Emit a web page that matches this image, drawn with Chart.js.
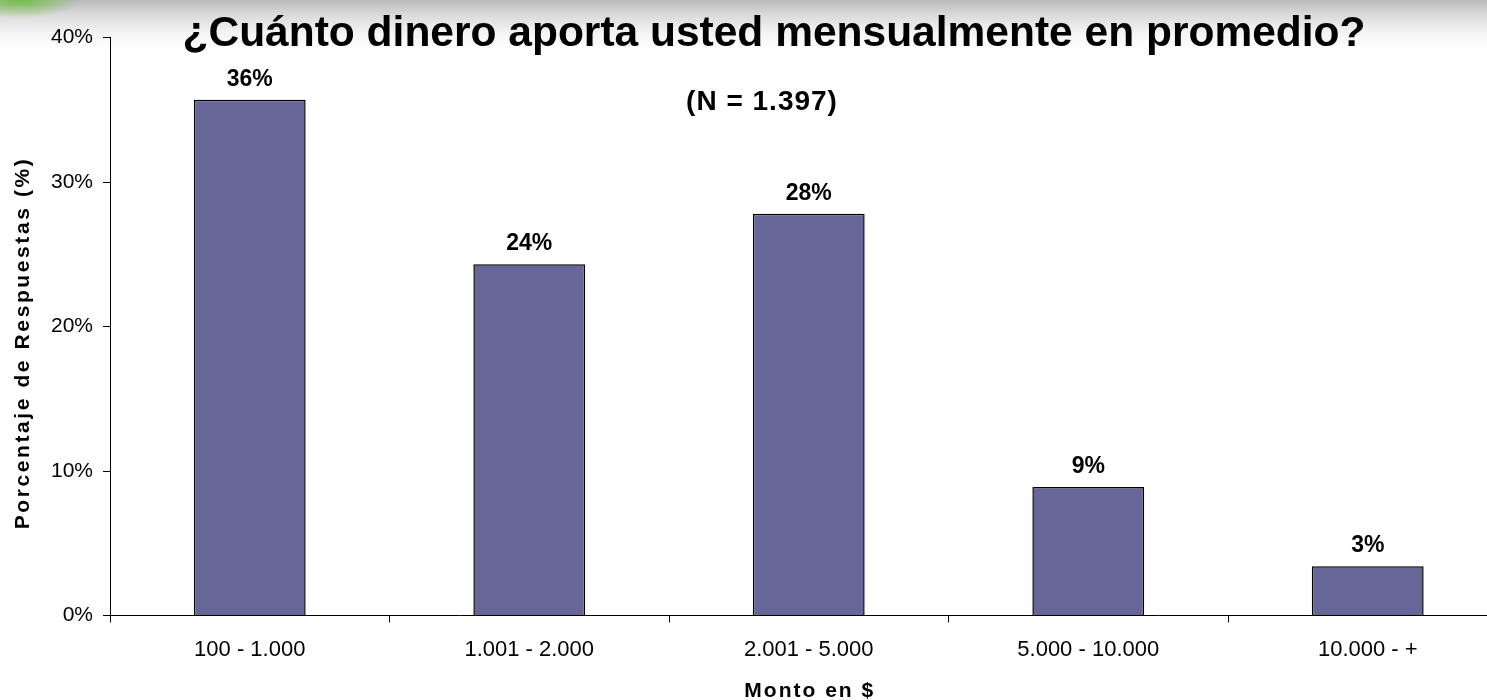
<!DOCTYPE html>
<html lang="es">
<head>
    <meta charset="UTF-8">
    <title>Aporte mensual</title>
    <script src="https://cdn.jsdelivr.net/npm/chart.js"></script>
    <style>
        html, body { margin: 0; padding: 0; overflow: hidden; }
        body {
            width: 1487px; height: 700px;
            background:
                radial-gradient(ellipse 60px 18px at 20px 0px, rgba(110,190,60,0.9), rgba(110,190,60,0) 100%),
                linear-gradient(to bottom, #b9b9b9 0px, #d9d9d9 14px, #f3f3f3 32px, #ffffff 48px);
        }
        .grafico { width: 1510px; height: 700px; }
    </style>
</head>
<body>
<div class="grafico">
    <canvas id="grafico_aporte" width="1510" height="700"></canvas>
</div>
<script>
    // datos
    const categorias = ['100 - 1.000', '1.001 - 2.000', '2.001 - 5.000', '5.000 - 10.000', '10.000 - +'];
    const porcentajes = [35.7, 24.3, 27.8, 8.9, 3.4];
    const etiquetas = ['36%', '24%', '28%', '9%', '3%'];
    const ticksY = [0, 10, 20, 30, 40];

    const titulo = '¿Cuánto dinero aporta usted mensualmente en promedio?';
    const subtitulo = '(N = 1.397)';
    const tituloX = 'Monto en $';
    const tituloY = 'Porcentaje de Respuestas (%)';

    const fuente = '"Liberation Sans", Arial, sans-serif';

    // textos sobre el grafico (titulo, etiquetas de barras, titulos de ejes)
    const textos = {
        id: 'textos',
        afterDatasetsDraw(chart) {
            const ctx = chart.ctx;
            const meta = chart.getDatasetMeta(0);
            ctx.save();
            ctx.fillStyle = '#000';
            ctx.textAlign = 'center';
            ctx.textBaseline = 'alphabetic';
            ctx.font = 'bold 23px ' + fuente;
            meta.data.forEach((barra, i) => {
                ctx.fillText(etiquetas[i], barra.x, barra.y - 14);
            });
            ctx.restore();
        },
        afterDraw(chart) {
            const ctx = chart.ctx;
            const area = chart.chartArea;
            ctx.save();
            ctx.fillStyle = '#000';
            ctx.textAlign = 'center';
            ctx.textBaseline = 'alphabetic';

            ctx.font = 'bold 42.5px ' + fuente;
            ctx.fillText(titulo, 774, 46);

            ctx.font = 'bold 28px ' + fuente;
            ctx.letterSpacing = '1px';
            ctx.fillText(subtitulo, 762, 110);

            ctx.font = 'bold 21px ' + fuente;
            ctx.letterSpacing = '2px';
            ctx.fillText(tituloX, (area.left + area.right) / 2 + 1, 697);

            ctx.save();
            ctx.translate(29, 343);
            ctx.rotate(-Math.PI / 2);
            ctx.letterSpacing = '2.6px';
            ctx.fillText(tituloY, 0, 0);
            ctx.restore();

            ctx.restore();
        }
    };

    const config = {
        type: 'bar',
        data: {
            labels: categorias,
            datasets: [{
                data: porcentajes,
                backgroundColor: '#666699',
                borderColor: '#000',
                borderWidth: 1.5,
                barPercentage: 0.4,
                categoryPercentage: 1.0
            }]
        },
        options: {
            responsive: false,
            animation: false,
            layout: { padding: { top: 37.5, right: 2.5, bottom: 0, left: 0 } },
            plugins: {
                legend: { display: false },
                tooltip: { enabled: false }
            },
            scales: {
                x: {
                    grid: { display: true, drawOnChartArea: false, drawTicks: true, tickLength: 7, color: '#000', offset: true },
                    border: { display: true, color: '#000', width: 1 },
                    ticks: { color: '#000', font: { family: fuente, size: 22 }, padding: 14, maxRotation: 0 },
                    afterFit(scale) { scale.height = 84.5; }
                },
                y: {
                    min: 0,
                    max: 40,
                    afterBuildTicks(scale) { scale.ticks = ticksY.map(v => ({ value: v })); },
                    grid: { display: true, drawOnChartArea: false, drawTicks: true, tickLength: 7, color: '#000' },
                    border: { display: true, color: '#000', width: 1 },
                    ticks: {
                        color: '#000',
                        font: { family: fuente, size: 21 },
                        padding: 10,
                        callback: v => v + '%'
                    },
                    afterFit(scale) { scale.width = 110; }
                }
            }
        },
        plugins: [textos]
    };

    var grafico = new Chart(document.getElementById('grafico_aporte'), config);
</script>
</body>
</html>
